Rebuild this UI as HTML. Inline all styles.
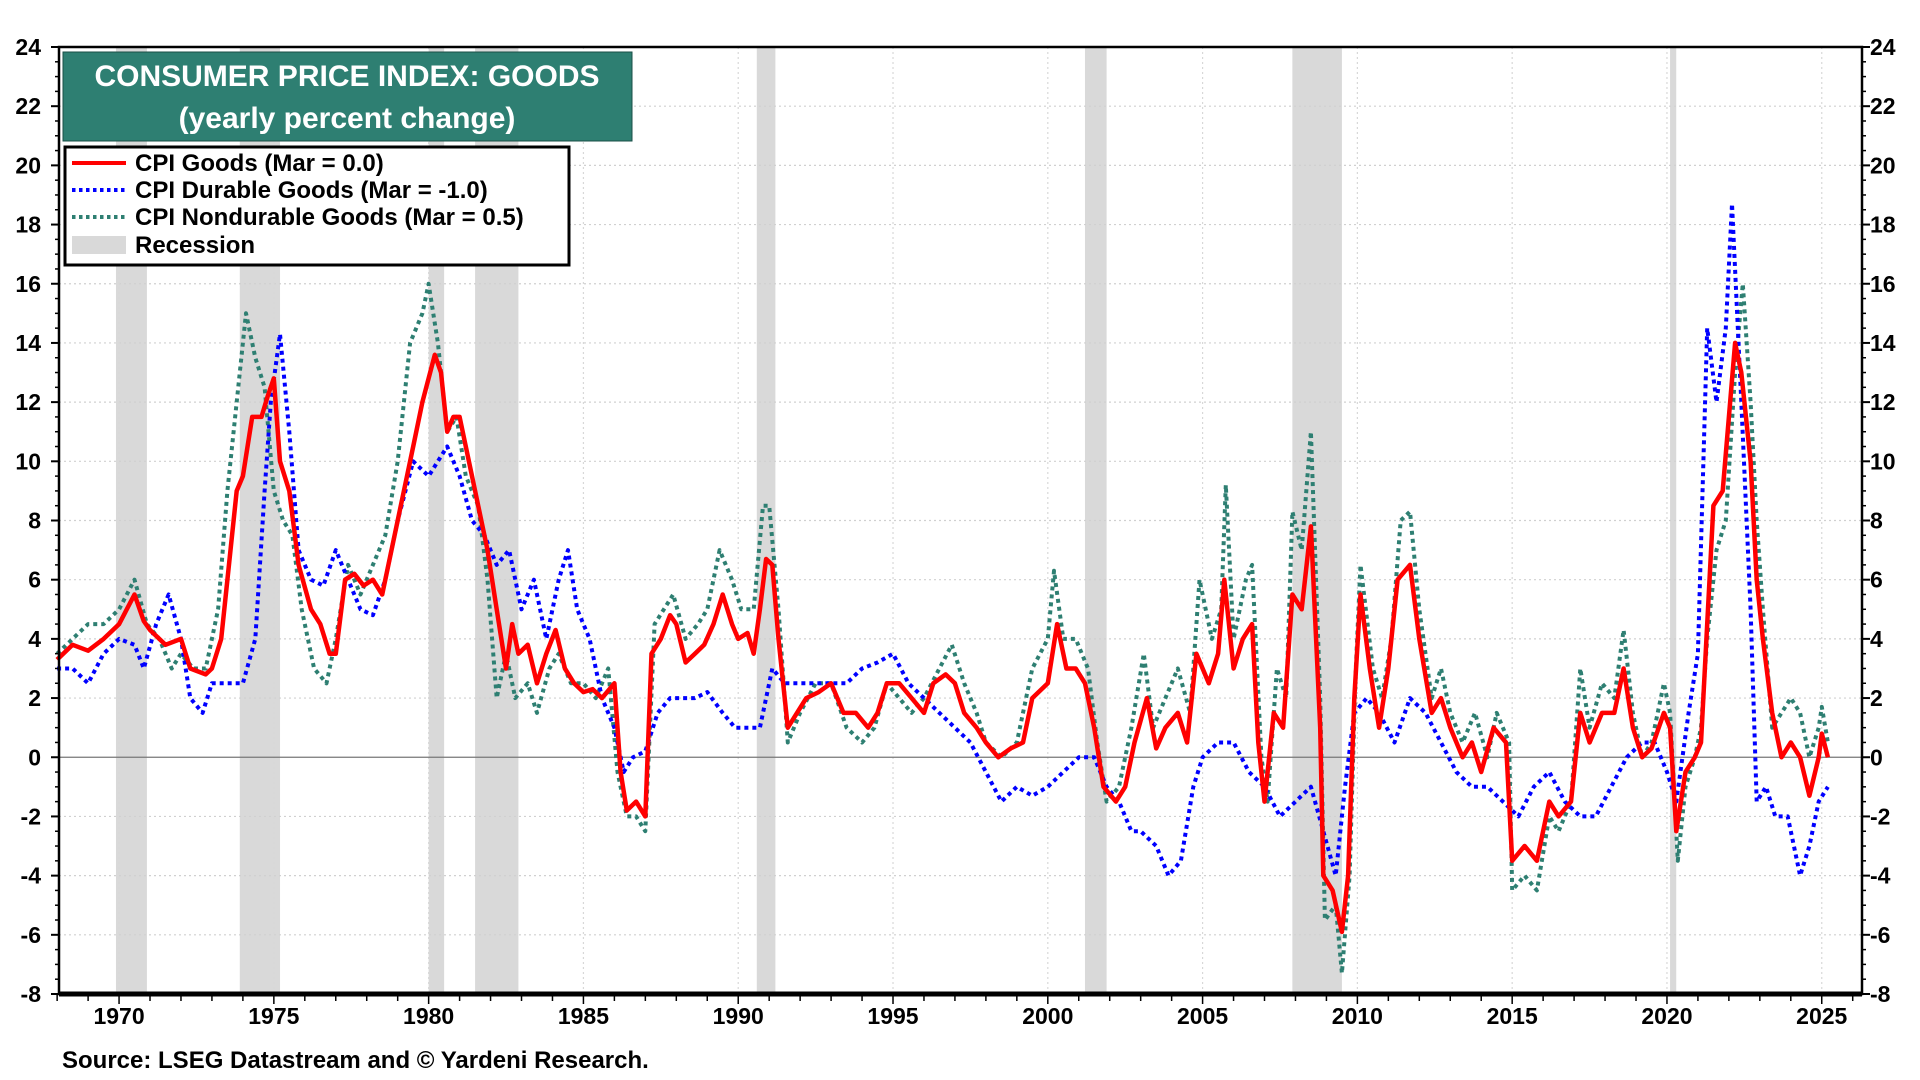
<!DOCTYPE html>
<html><head><meta charset="utf-8">
<style>
html,body{margin:0;padding:0;background:#fff;width:1920px;height:1080px;overflow:hidden;font-family:"Liberation Sans",Arial,sans-serif;}
svg text{font-family:"Liberation Sans",Arial,sans-serif;font-weight:bold;}
</style></head>
<body>
<svg id="chart" width="1920" height="1080" viewBox="0 0 1920 1080" xmlns="http://www.w3.org/2000/svg">
<g id="rec"></g>
<g id="grid"></g>
<g id="series"></g>
<g id="axes"></g>
<g>
<rect x="63" y="52" width="569" height="89" fill="#2e7f72" stroke="#1a4f47" stroke-width="1"/>
<text x="347" y="86" text-anchor="middle" font-size="30" fill="#fff">CONSUMER PRICE INDEX: GOODS</text>
<text x="347" y="128" text-anchor="middle" font-size="30" fill="#fff">(yearly percent change)</text>
</g>
<g>
<rect x="65" y="147" width="504" height="118" fill="#fff" stroke="#000" stroke-width="3"/>
<g><line x1="72" y1="163" x2="126" y2="163" stroke="#f00" stroke-width="4"/><text x="135" y="171" font-size="24">CPI Goods (Mar = 0.0)</text></g>
<g><line x1="72" y1="190" x2="126" y2="190" stroke="#00f" stroke-width="4" stroke-dasharray="3.5,3.5"/><text x="135" y="198" font-size="24">CPI Durable Goods (Mar = -1.0)</text></g>
<g><line x1="72" y1="217" x2="126" y2="217" stroke="#2e7f72" stroke-width="4" stroke-dasharray="3.5,3.5"/><text x="135" y="225" font-size="24">CPI Nondurable Goods (Mar = 0.5)</text></g>
<g><rect x="72" y="236" width="54" height="18" fill="#d9d9d9"/><text x="135" y="253" font-size="24">Recession</text></g>
</g>
<text x="62" y="1068" font-size="24">Source: LSEG Datastream and © Yardeni Research.</text>
</svg>
<script>
const recessions = [[1969.9,1970.9],[1973.9,1975.2],[1980.0,1980.5],[1981.5,1982.9],[1990.6,1991.2],[2001.2,2001.9],[2007.9,2009.5],[2020.1,2020.3]];
const yTicks = [24,22,20,18,16,14,12,10,8,6,4,2,0,-2,-4,-6,-8];
const xTicks = [1970,1975,1980,1985,1990,1995,2000,2005,2010,2015,2020,2025];
const goodsYears = [1968.0,1968.5,1969,1969.5,1970,1970.5,1970.8,1971,1971.5,1972,1972.3,1972.8,1973.0,1973.3,1973.6,1973.8,1974.0,1974.3,1974.6,1974.8,1975.0,1975.2,1975.5,1975.8,1976.2,1976.5,1976.8,1977.0,1977.3,1977.6,1977.9,1978.2,1978.5,1978.8,1979.2,1979.5,1979.8,1980.0,1980.2,1980.4,1980.6,1980.8,1981.0,1981.3,1981.6,1981.9,1982.2,1982.5,1982.7,1982.9,1983.2,1983.5,1983.8,1984.1,1984.4,1984.7,1985.0,1985.3,1985.6,1986.0,1986.2,1986.4,1986.7,1987.0,1987.2,1987.5,1987.8,1988.0,1988.3,1988.6,1988.9,1989.2,1989.5,1989.8,1990.0,1990.3,1990.5,1990.7,1990.9,1991.1,1991.3,1991.6,1991.9,1992.2,1992.6,1993.0,1993.4,1993.8,1994.2,1994.5,1994.8,1995.2,1995.6,1996.0,1996.3,1996.7,1997.0,1997.3,1997.7,1998.0,1998.4,1998.8,1999.2,1999.5,2000.0,2000.3,2000.6,2000.9,2001.2,2001.5,2001.8,2002.2,2002.5,2002.8,2003.2,2003.5,2003.8,2004.2,2004.5,2004.8,2005.2,2005.5,2005.7,2006.0,2006.3,2006.6,2006.8,2007.0,2007.3,2007.6,2007.9,2008.2,2008.5,2008.8,2008.9,2009.2,2009.5,2009.7,2009.9,2010.1,2010.4,2010.7,2011.0,2011.3,2011.7,2012.0,2012.4,2012.7,2013.0,2013.4,2013.7,2014.0,2014.4,2014.8,2015.0,2015.4,2015.8,2016.2,2016.5,2016.9,2017.2,2017.5,2017.9,2018.3,2018.6,2018.9,2019.2,2019.5,2019.9,2020.1,2020.3,2020.6,2020.9,2021.1,2021.3,2021.5,2021.8,2022.0,2022.2,2022.4,2022.7,2022.9,2023.1,2023.4,2023.7,2024.0,2024.3,2024.6,2024.9,2025.0,2025.2];
const goodsValues = [3.3,3.8,3.6,4.0,4.5,5.5,4.6,4.3,3.8,4.0,3.0,2.8,3.0,4.0,7.0,9.0,9.5,11.5,11.5,12.2,12.8,10.0,9.0,6.5,5.0,4.5,3.5,3.5,6.0,6.2,5.8,6.0,5.5,7.0,9.0,10.5,12.0,12.8,13.6,13.0,11.0,11.5,11.5,10.0,8.5,7.0,5.0,3.0,4.5,3.5,3.8,2.5,3.5,4.3,3.0,2.5,2.2,2.3,2.0,2.5,-0.5,-1.8,-1.5,-2.0,3.5,4.0,4.8,4.5,3.2,3.5,3.8,4.5,5.5,4.5,4.0,4.2,3.5,5.0,6.7,6.5,4.0,1.0,1.5,2.0,2.2,2.5,1.5,1.5,1.0,1.5,2.5,2.5,2.0,1.5,2.5,2.8,2.5,1.5,1.0,0.5,0.0,0.3,0.5,2.0,2.5,4.5,3.0,3.0,2.5,1.0,-1.0,-1.5,-1.0,0.5,2.0,0.3,1.0,1.5,0.5,3.5,2.5,3.5,6.0,3.0,4.0,4.5,0.5,-1.5,1.5,1.0,5.5,5.0,7.8,1.0,-4.0,-4.5,-5.9,-4.0,2.0,5.5,3.0,1.0,3.0,6.0,6.5,4.0,1.5,2.0,1.0,0.0,0.5,-0.5,1.0,0.5,-3.5,-3.0,-3.5,-1.5,-2.0,-1.5,1.5,0.5,1.5,1.5,3.0,1.0,0.0,0.3,1.5,1.0,-2.5,-0.5,0.0,0.5,4.5,8.5,9.0,11.5,14.0,13.0,10.0,6.0,4.0,1.5,0.0,0.5,0.0,-1.3,0.0,0.8,0.0];
const durableYears = [1968.0,1968.5,1969.0,1969.5,1970.0,1970.5,1970.8,1971.2,1971.6,1972.0,1972.3,1972.7,1973.0,1973.5,1974.0,1974.4,1974.7,1974.9,1975.2,1975.5,1975.8,1976.2,1976.6,1977.0,1977.4,1977.8,1978.2,1978.6,1979.0,1979.5,1980.0,1980.3,1980.6,1981.0,1981.4,1981.8,1982.2,1982.6,1983.0,1983.4,1983.8,1984.2,1984.5,1984.8,1985.2,1985.6,1986.0,1986.3,1986.6,1987.0,1987.4,1987.8,1988.2,1988.6,1989.0,1989.5,1989.9,1990.3,1990.7,1991.1,1991.5,1992.0,1992.5,1993.0,1993.5,1994.0,1994.5,1995.0,1995.5,1996.0,1996.5,1997.0,1997.5,1998.0,1998.5,1999.0,1999.5,2000.0,2000.5,2001.0,2001.5,2001.9,2002.3,2002.7,2003.0,2003.5,2003.9,2004.3,2004.7,2005.0,2005.5,2006.0,2006.5,2007.0,2007.5,2008.0,2008.5,2008.9,2009.3,2009.6,2009.9,2010.3,2010.7,2011.2,2011.7,2012.2,2012.7,2013.2,2013.7,2014.2,2014.7,2015.2,2015.7,2016.2,2016.7,2017.2,2017.7,2018.2,2018.7,2019.2,2019.6,2020.0,2020.3,2020.7,2021.0,2021.3,2021.6,2021.9,2022.1,2022.4,2022.7,2022.9,2023.2,2023.5,2023.9,2024.3,2024.6,2024.9,2025.2];
const durableValues = [3.0,3.0,2.5,3.5,4.0,3.8,3.0,4.5,5.5,4.0,2.0,1.5,2.5,2.5,2.5,4.0,9.0,12.0,14.3,11.0,7.0,6.0,5.8,7.0,6.0,5.0,4.8,6.0,8.0,10.0,9.5,10.0,10.5,9.5,8.0,7.5,6.5,7.0,5.0,6.0,4.0,6.0,7.0,5.0,4.0,2.0,1.0,-0.5,0.0,0.2,1.5,2.0,2.0,2.0,2.2,1.5,1.0,1.0,1.0,3.0,2.5,2.5,2.5,2.5,2.5,3.0,3.2,3.5,2.5,2.0,1.5,1.0,0.5,-0.5,-1.5,-1.0,-1.3,-1.0,-0.5,0.0,0.0,-1.0,-1.5,-2.5,-2.5,-3.0,-4.0,-3.5,-1.0,0.0,0.5,0.5,-0.5,-1.0,-2.0,-1.5,-1.0,-2.5,-4.0,-1.0,1.5,2.0,1.5,0.5,2.0,1.5,0.5,-0.5,-1.0,-1.0,-1.5,-2.0,-1.0,-0.5,-1.5,-2.0,-2.0,-1.0,0.0,0.5,0.5,-0.5,-1.5,1.5,3.5,14.5,12.0,14.5,18.7,12.0,5.0,-1.5,-1.0,-2.0,-2.0,-4.0,-3.0,-1.5,-1.0];
const nondurYears = [1968.0,1968.5,1969.0,1969.5,1970.0,1970.5,1970.9,1971.3,1971.7,1972.0,1972.4,1972.8,1973.2,1973.5,1973.8,1974.1,1974.4,1974.7,1975.0,1975.3,1975.6,1975.9,1976.3,1976.7,1977.0,1977.4,1977.8,1978.2,1978.6,1979.0,1979.4,1979.8,1980.0,1980.3,1980.6,1980.9,1981.2,1981.6,1981.9,1982.2,1982.5,1982.8,1983.2,1983.5,1983.9,1984.2,1984.6,1985.0,1985.4,1985.8,1986.1,1986.4,1986.7,1987.0,1987.3,1987.6,1987.9,1988.3,1988.7,1989.0,1989.4,1989.8,1990.1,1990.5,1990.8,1991.0,1991.3,1991.6,1992.0,1992.5,1993.0,1993.5,1994.0,1994.4,1994.8,1995.2,1995.6,1996.0,1996.5,1996.9,1997.3,1997.7,1998.0,1998.5,1999.0,1999.5,2000.0,2000.2,2000.5,2000.9,2001.3,2001.6,2001.9,2002.3,2002.7,2003.1,2003.4,2003.8,2004.2,2004.6,2004.9,2005.3,2005.6,2005.75,2006.0,2006.4,2006.6,2006.9,2007.1,2007.4,2007.7,2007.9,2008.2,2008.5,2008.8,2008.95,2009.3,2009.5,2009.75,2009.95,2010.1,2010.5,2010.8,2011.1,2011.4,2011.7,2012.0,2012.4,2012.7,2013.0,2013.4,2013.8,2014.2,2014.5,2014.9,2015.0,2015.4,2015.8,2016.2,2016.5,2016.9,2017.2,2017.5,2017.9,2018.3,2018.6,2018.9,2019.2,2019.5,2019.9,2020.1,2020.35,2020.6,2020.9,2021.1,2021.3,2021.6,2021.9,2022.2,2022.45,2022.7,2022.9,2023.1,2023.4,2023.7,2024.0,2024.3,2024.6,2024.9,2025.0,2025.2];
const nondurValues = [3.5,4.0,4.5,4.5,5.0,6.0,4.5,4.0,3.0,3.5,3.0,3.0,5.0,9.0,12.0,15.0,13.5,12.5,9.0,8.0,7.5,5.0,3.0,2.5,4.0,6.5,5.5,6.5,7.5,10.0,14.0,15.0,16.0,14.0,11.0,11.5,9.5,8.5,6.0,2.0,3.5,2.0,2.5,1.5,3.0,3.5,2.5,2.5,2.0,3.0,-0.5,-2.0,-2.0,-2.5,4.5,5.0,5.5,4.0,4.5,5.0,7.0,6.0,5.0,5.0,8.5,8.5,5.0,0.5,1.5,2.5,2.5,1.0,0.5,1.0,2.5,2.0,1.5,2.0,3.0,3.8,2.5,1.5,0.5,0.0,0.5,3.0,4.0,6.3,4.0,4.0,3.0,0.5,-1.5,-1.0,1.0,3.5,1.0,2.0,3.0,1.5,6.0,4.0,5.0,9.2,4.0,6.0,6.5,0.0,-1.5,3.0,2.0,8.3,7.0,11.0,2.0,-5.5,-5.0,-7.3,-4.0,3.0,6.5,3.0,2.0,4.0,8.0,8.3,5.0,2.0,3.0,1.5,0.5,1.5,0.0,1.5,0.5,-4.5,-4.0,-4.5,-2.0,-2.5,-1.5,3.0,1.0,2.5,2.0,4.3,1.5,0.0,0.5,2.5,1.5,-3.5,-1.0,0.0,1.0,4.0,7.0,8.0,13.0,16.0,12.0,8.0,5.0,1.0,1.5,2.0,1.5,0.0,1.0,1.7,0.5];

const NS='http://www.w3.org/2000/svg';
const L=59,R=1862,T=47,B=994, X0=1968.06, X1=2026.3, Y0=-8, Y1=24;
function xs(v){return L+(v-X0)/(X1-X0)*(R-L);}
function ys(v){return B-(v-Y0)/(Y1-Y0)*(B-T);}
function mk(tag,attrs,parent){const e=document.createElementNS(NS,tag);for(const k in attrs)e.setAttribute(k,attrs[k]);parent.appendChild(e);return e;}
const gRec=document.getElementById('rec'),gGrid=document.getElementById('grid'),gSer=document.getElementById('series'),gAx=document.getElementById('axes');
recessions.forEach(r=>{const e=mk('rect',{x:xs(r[0]),y:T,width:xs(r[1])-xs(r[0]),height:B-T,fill:'#d9d9d9'},gRec);

});
yTicks.forEach(v=>{
 if(v!==0&&v!==Y0&&v!==Y1){const g=mk('line',{x1:L,x2:R,y1:ys(v),y2:ys(v),stroke:'#d0d0d0','stroke-width':1.2,'stroke-dasharray':'2,3'},gGrid);
 
 }
 const a=mk('text',{x:41,y:ys(v)+8,'text-anchor':'end','font-size':23},gAx);a.textContent=v;
 
 
 const b=mk('text',{x:1870,y:ys(v)+8,'font-size':23},gAx);b.textContent=v;
 
 
 mk('line',{x1:L-8,x2:L,y1:ys(v),y2:ys(v),stroke:'#000','stroke-width':2},gAx);
 mk('line',{x1:R,x2:R+8,y1:ys(v),y2:ys(v),stroke:'#000','stroke-width':2},gAx);
});
for(let v=Y0;v<=Y1;v+=0.5){if(v%2===0)continue;
 mk('line',{x1:L-4,x2:L,y1:ys(v),y2:ys(v),stroke:'#000','stroke-width':1.5},gAx);
 mk('line',{x1:R,x2:R+4,y1:ys(v),y2:ys(v),stroke:'#000','stroke-width':1.5},gAx);}
xTicks.forEach(v=>{
 const g=mk('line',{x1:xs(v),x2:xs(v),y1:T,y2:B,stroke:'#d8d8d8','stroke-width':1.2,'stroke-dasharray':'2,3'},gGrid);
 
 
 const t=mk('text',{x:xs(v),y:1024,'text-anchor':'middle','font-size':23},gAx);t.textContent=v;
 
 
});
for(let y=1968;y<=2026;y++){mk('line',{x1:xs(y),x2:xs(y),y1:B,y2:B+(y%5===0?10:7),stroke:'#000','stroke-width':1.5},gAx);}
const z=mk('line',{x1:L,x2:R,y1:ys(0),y2:ys(0),stroke:'#777','stroke-width':1.3},gGrid);


function series(years,vals,color,dash,w,name){
 const d=years.map((y,i)=>(i?'L':'M')+xs(y).toFixed(1)+','+ys(vals[i]).toFixed(1)).join(' ');
 const p=mk('path',{d:d,fill:'none',stroke:color,'stroke-width':w,'stroke-linejoin':'round'},gSer);
 if(dash)p.setAttribute('stroke-dasharray',dash);
 
 
}
series(nondurYears,nondurValues,'#2e7f72','4,4',4,'nondurable-goods-line');
series(durableYears,durableValues,'#0000ff','4,4',4,'durable-goods-line');
series(goodsYears,goodsValues,'#ff0000',null,4.5,'cpi-goods-line');
const fr=mk('rect',{x:L,y:T,width:R-L,height:B-T,fill:'none',stroke:'#000','stroke-width':2.5},gAx);


mk('line',{x1:L,x2:R,y1:B,y2:B,stroke:'#000','stroke-width':5},gAx);
</script>
</body></html>
